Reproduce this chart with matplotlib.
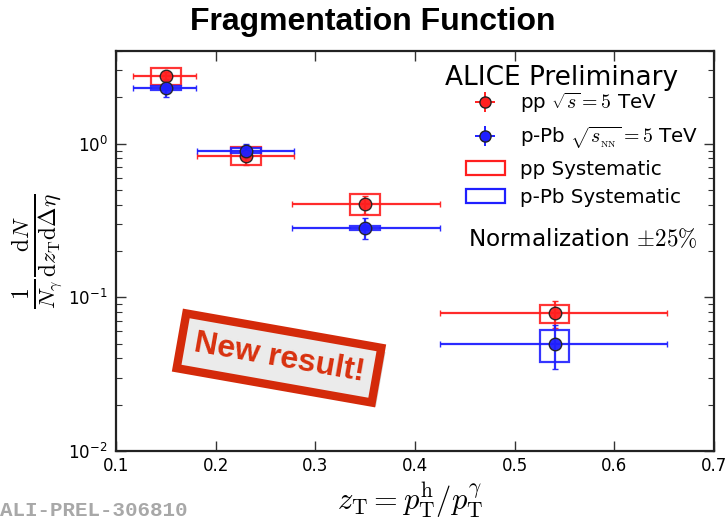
import matplotlib
matplotlib.use("Agg")
import matplotlib.pyplot as plt
from matplotlib.patches import Rectangle
from matplotlib import patheffects

plt.rcParams["font.family"] = ["DejaVu Sans"]
plt.rcParams["mathtext.fontset"] = "dejavusans"

# z_T bins (shared by both systems)
zt = [0.15, 0.23, 0.35, 0.54]
zt_lo = [0.117, 0.181, 0.277, 0.425]
zt_hi = [0.180, 0.279, 0.425, 0.653]
sys_halfwidth = 0.015

# pp, sqrt(s) = 5 TeV
pp_val = [2.77, 0.83, 0.404, 0.079]
pp_stat = [0.15, 0.11, 0.055, 0.016]
pp_sys_lo = [2.42, 0.727, 0.342, 0.0685]
pp_sys_hi = [3.12, 0.946, 0.467, 0.0897]

# p-Pb, sqrt(s_NN) = 5 TeV
ppb_val = [2.30, 0.90, 0.283, 0.050]
ppb_stat = [0.28, 0.10, 0.044, 0.016]
ppb_sys_lo = [2.22, 0.865, 0.274, 0.038]
ppb_sys_hi = [2.38, 0.935, 0.292, 0.0617]

RED = "#ff1f1f"
BLUE = "#1f1fff"

fig = plt.figure(figsize=(7.26, 5.25), dpi=100)
ax = fig.add_axes([116 / 726, 1 - 451 / 525, 598 / 726, 400 / 525])

xerr_lo = [c - lo for c, lo in zip(zt, zt_lo)]
xerr_hi = [hi - c for c, hi in zip(zt, zt_hi)]

for vals, stat, slo, shi, col in [
    (pp_val, pp_stat, pp_sys_lo, pp_sys_hi, RED),
    (ppb_val, ppb_stat, ppb_sys_lo, ppb_sys_hi, BLUE),
]:
    for c, lo, hi in zip(zt, slo, shi):
        ax.add_patch(Rectangle((c - sys_halfwidth, lo), 2 * sys_halfwidth, hi - lo,
                               fill=False, ec=col, lw=1.6, alpha=0.9, zorder=2))
    ax.errorbar(zt, vals, yerr=stat, xerr=[xerr_lo, xerr_hi], fmt="o",
                color=col, ecolor=col, elinewidth=1.6, capsize=2, capthick=1.2,
                ms=9, mfc=col, mec="#222222", mew=1.0, alpha=0.95, zorder=3)

ax.set_yscale("log")
ax.set_xlim(0.1, 0.7)
ax.set_ylim(0.01, 4.0)
ax.set_xticks([0.1, 0.2, 0.3, 0.4, 0.5, 0.6, 0.7])
ax.set_xticklabels(["0.1", "0.2", "0.3", "0.4", "0.5", "0.6", "0.7"])
ax.tick_params(which="both", direction="in", top=True, right=True, labelsize=12,
               color="#333333")
ax.tick_params(which="major", length=7, width=1.0, pad=6)
ax.tick_params(which="minor", length=4, width=0.8)
ax.tick_params(axis="x", pad=4)
for sp in ax.spines.values():
    sp.set_linewidth(1.6)
    sp.set_color("#222222")

# legend
handles = [
    ax.errorbar([], [], xerr=[], yerr=[], fmt="o", color=RED, ms=8, mfc=RED,
                mec="#222222", elinewidth=1.4, capsize=2),
    ax.errorbar([], [], xerr=[], yerr=[], fmt="o", color=BLUE, ms=8, mfc=BLUE,
                mec="#222222", elinewidth=1.4, capsize=2),
    Rectangle((0, 0), 1, 1, fill=False, ec=RED, lw=1.6),
    Rectangle((0, 0), 1, 1, fill=False, ec=BLUE, lw=1.6),
]
labels = [
    r"pp $\sqrt{s} = 5$ TeV",
    r"p-Pb $\sqrt{s_{_{\rm NN}}} = 5$ TeV",
    "pp Systematic",
    "p-Pb Systematic",
]
leg = fig.legend(handles, labels, loc="upper left",
                 bbox_to_anchor=(466 / 726, 1 - 91 / 525),
                 frameon=False, fontsize=14.3, borderpad=0, borderaxespad=0,
                 handlelength=1.95, handletextpad=0.75, labelspacing=0.46)
for t in leg.get_texts():
    t.set_math_fontfamily("cm")

fig.text(562 / 726, 1 - 78 / 525, "ALICE Preliminary", fontsize=19,
         ha="center", va="center")
fig.text(468 / 726, 1 - 239 / 525, r"Normalization $\pm 25\%$", fontsize=16.7,
         ha="left", va="center", math_fontfamily="cm")

# title
fig.text(373 / 726, 1 - 22 / 525, "Fragmentation Function", fontsize=23,
         fontweight="bold", family=["Liberation Sans", "DejaVu Sans"],
         ha="center", va="center")

# axis labels
fig.text(410 / 726, 1 - 500 / 525,
         r"$z_{\rm T} = p_{\rm T}^{\rm h}/p_{\rm T}^{\gamma}$",
         fontsize=22, ha="center", va="center", math_fontfamily="cm")
fig.text(38 / 726, 1 - 251 / 525,
         r"$\frac{1}{N_{\gamma}}\frac{{\rm d}N}{{\rm d}z_{\rm T}{\rm d}\Delta\eta}$",
         fontsize=24, rotation=90, ha="center", va="center", math_fontfamily="cm")

# preliminary identifier
fig.text(0, 1 - 510 / 525, "ALI-PREL-306810", fontsize=15,
         family=["Liberation Mono", "DejaVu Sans Mono"], fontweight="bold",
         color="#a8a8a8", ha="left", va="center")

# stamp
stamp = fig.text(279 / 726, 1 - 358 / 525, "New result!", fontsize=23,
                 fontweight="bold", family=["Liberation Sans", "DejaVu Sans"],
                 color="#d8300e", rotation=-10, rotation_mode="anchor",
                 ha="center", va="center",
                 bbox=dict(boxstyle="square,pad=0.4", fc="#ebebeb",
                           ec="#d42a0a", lw=6))
stamp.get_bbox_patch().set_path_effects([
    patheffects.SimplePatchShadow(offset=(3, -3), alpha=0.25),
    patheffects.Normal(),
])

fig.savefig("out.png", dpi=100)
